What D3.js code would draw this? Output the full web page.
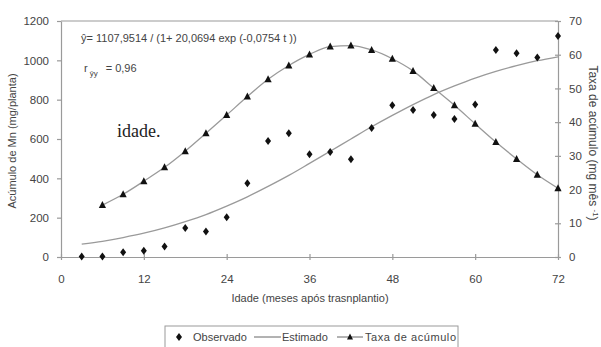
<!DOCTYPE html>
<html>
<head>
<meta charset="utf-8">
<script src="https://cdn.jsdelivr.net/npm/d3@7"></script>
<style>
  body { margin: 0; background: #fff; }
  svg { display: block; font-family: "Liberation Sans", Arial, sans-serif; }
</style>
</head>
<body>
<div id="chart"></div>
<script>
const width = 601;
const height = 347;

// idade (meses) e valores
const months = [3, 6, 9, 12, 15, 18, 21, 24, 27, 30, 33, 36, 39, 42, 45, 48, 51, 54, 57, 60, 63, 66, 69, 72];
const observado = [2, 3, 24, 32, 54, 147, 130, 202, 375, 590, 629, 522, 534, 497, 656, 771, 748, 722, 702, 776, 1053, 1036, 1015, 1124];
const estimado = [65, 80, 99, 121, 148, 180, 216, 259, 306, 359, 415, 476, 538, 600, 662, 720, 775, 826, 870, 910, 944, 973, 998, 1018];
const taxaMonths = [6, 9, 12, 15, 18, 21, 24, 27, 30, 33, 36, 39, 42, 45, 48, 51, 54, 57, 60, 63, 66, 69, 72];
const taxa = [15.4, 18.6, 22.5, 26.6, 31.4, 36.7, 42.1, 47.6, 52.7, 56.8, 60.1, 62.4, 62.7, 61.4, 58.8, 55.2, 50.1, 45.0, 39.5, 34.1, 29.1, 24.4, 20.4];

const xTicks = [0, 12, 24, 36, 48, 60, 72];
const yLeftTicks = [0, 200, 400, 600, 800, 1000, 1200];
const yRightTicks = [0, 10, 20, 30, 40, 50, 60, 70];

const axisColor = '#9a9a9a';
const textColor = '#444';
const lineColor = '#9a9a9a';

const svg = d3.select('#chart').append('svg')
    .attr('width', width)
    .attr('height', height);

const x = d3.scaleLinear().domain([0, 72]).range([61, 558]);
const yL = d3.scaleLinear().domain([0, 1200]).range([257, 21]);
const yR = d3.scaleLinear().domain([0, 70]).range([257, 21]);

// top frame line
svg.append('line')
    .attr('x1', x(0)).attr('x2', x(72))
    .attr('y1', yL(1200)).attr('y2', yL(1200))
    .attr('stroke', axisColor).attr('stroke-width', 1.2);

function styleAxis(g) {
    g.selectAll('path, line').attr('stroke', axisColor).attr('stroke-width', 1.2);
    g.selectAll('text').attr('fill', textColor).attr('font-size', 11.5)
        .attr('font-family', '"Liberation Sans", Arial, sans-serif');
}

svg.append('g')
    .attr('transform', `translate(0,${yL(0)})`)
    .call(d3.axisBottom(x).tickValues(xTicks).tickFormat(d3.format('d'))
        .tickSizeInner(3).tickSizeOuter(0).tickPadding(15))
    .call(styleAxis)
    .call(g => g.selectAll('.tick line').attr('y1', -3));

svg.append('g')
    .attr('transform', `translate(${x(0)},0)`)
    .call(d3.axisLeft(yL).tickValues(yLeftTicks).tickFormat(d3.format('d'))
        .tickSizeInner(4).tickSizeOuter(0).tickPadding(8))
    .call(styleAxis);

svg.append('g')
    .attr('transform', `translate(${x(72)},0)`)
    .call(d3.axisRight(yR).tickValues(yRightTicks).tickFormat(d3.format('d'))
        .tickSizeInner(3).tickSizeOuter(0).tickPadding(8))
    .call(styleAxis)
    .call(g => g.selectAll('.tick line').attr('x1', -3));

// estimated curve
svg.append('path')
    .datum(months.map((m, i) => [m, estimado[i]]))
    .attr('fill', 'none')
    .attr('stroke', lineColor)
    .attr('stroke-width', 1.3)
    .attr('d', d3.line().x(d => x(d[0])).y(d => yL(d[1])).curve(d3.curveMonotoneX));

// accumulation rate line
svg.append('path')
    .datum(taxaMonths.map((m, i) => [m, taxa[i]]))
    .attr('fill', 'none')
    .attr('stroke', lineColor)
    .attr('stroke-width', 1.3)
    .attr('d', d3.line().x(d => x(d[0])).y(d => yR(d[1])).curve(d3.curveMonotoneX));

const diamond = 'M0,-4L3,0L0,4L-3,0Z';
const triangle = 'M0,-4L3.6,3L-3.6,3Z';

svg.append('g').selectAll('path')
    .data(taxaMonths.map((m, i) => [m, taxa[i]]))
    .join('path')
    .attr('d', triangle)
    .attr('fill', '#111')
    .attr('transform', d => `translate(${x(d[0])},${yR(d[1])})`);

svg.append('g').selectAll('path')
    .data(months.map((m, i) => [m, observado[i]]))
    .join('path')
    .attr('d', diamond)
    .attr('fill', '#111')
    .attr('transform', d => `translate(${x(d[0])},${yL(d[1])})`);

// annotations
svg.append('text')
    .attr('x', 81).attr('y', 42)
    .attr('font-size', 11).attr('fill', textColor)
    .text('ŷ= 1107,9514 / (1+ 20,0694 exp (-0,0754 t ))');

const r = svg.append('text')
    .attr('x', 84).attr('y', 72)
    .attr('font-size', 11).attr('fill', textColor);
r.append('tspan').text('r');
r.append('tspan').attr('font-size', 8).attr('dy', 4).attr('dx', 2).text('ŷy');
r.append('tspan').attr('dy', -4).attr('dx', 8).text('= 0,96');

svg.append('text')
    .attr('x', 117).attr('y', 137)
    .attr('font-family', '"Liberation Serif", "Times New Roman", serif')
    .attr('font-size', 18).attr('fill', '#222')
    .text('idade.');

// axis titles
svg.append('text')
    .attr('x', 310).attr('y', 302)
    .attr('text-anchor', 'middle')
    .attr('font-size', 11).attr('fill', textColor)
    .text('Idade (meses após trasnplantio)');

svg.append('text')
    .attr('transform', 'translate(16,141) rotate(-90)')
    .attr('text-anchor', 'middle')
    .attr('font-size', 11).attr('fill', textColor)
    .text('Acúmulo de Mn (mg/planta)');

const rt = svg.append('text')
    .attr('transform', 'translate(589,143) rotate(90)')
    .attr('text-anchor', 'middle')
    .attr('font-size', 12).attr('fill', textColor);
rt.append('tspan').text('Taxa de acúmulo (mg mês ');
rt.append('tspan').attr('font-size', 8).attr('dy', -4).text(' -1');
rt.append('tspan').attr('dy', 4).text(')');

// legend
const legend = svg.append('g');
legend.append('rect')
    .attr('x', 165).attr('y', 326)
    .attr('width', 293).attr('height', 30)
    .attr('fill', '#fff').attr('stroke', axisColor).attr('stroke-width', 1);

legend.append('path').attr('d', diamond).attr('fill', '#111')
    .attr('transform', 'translate(179,337)');
legend.append('text').attr('x', 193).attr('y', 341)
    .attr('font-size', 11).attr('fill', textColor).text('Observado');

legend.append('line').attr('x1', 254).attr('x2', 281).attr('y1', 337).attr('y2', 337)
    .attr('stroke', '#666').attr('stroke-width', 1);
legend.append('text').attr('x', 282).attr('y', 341)
    .attr('font-size', 11).attr('fill', textColor).text('Estimado');

legend.append('line').attr('x1', 337).attr('x2', 363).attr('y1', 337).attr('y2', 337)
    .attr('stroke', '#666').attr('stroke-width', 1);
legend.append('path').attr('d', 'M0,-3.5L3,2.5L-3,2.5Z').attr('fill', '#111')
    .attr('transform', 'translate(350,337)');
legend.append('text').attr('x', 365).attr('y', 341)
    .attr('font-size', 11).attr('fill', textColor)
    .attr('textLength', 91).attr('lengthAdjust', 'spacing')
    .text('Taxa de acúmulo');
</script>
</body>
</html>
